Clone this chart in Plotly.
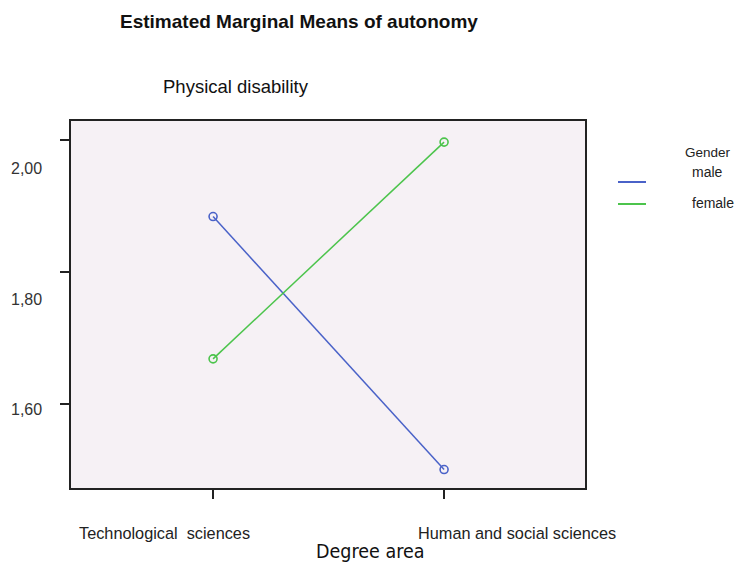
import plotly.graph_objects as go

categories = ["Technological  sciences", "Human and social sciences"]
series_names = ["male", "female"]
male = [1.884, 1.50]
female = [1.668, 1.997]
y_ticks = [1.60, 1.80, 2.00]
y_tick_labels = ["1,60", "1,80", "2,00"]
legend_title = "Gender"

FONT = "Liberation Sans, Arial, sans-serif"
COLORS = ["#4a62c8", "#4cc44c"]
xpos = list(range(len(categories)))

# plot box in pixels: x 71..585, y 121..488
PL, PR, PT, PB = 71, 585, 121, 488
PW, PH = PR - PL, PB - PT


def px_x(p):
    return (p - PL) / PW


def px_y(p):
    return (PB - p) / PH


fig = go.Figure()
for name, vals, col in zip(series_names, [male, female], COLORS):
    fig.add_trace(go.Scatter(x=xpos, y=vals, mode="lines+markers", name=name,
                             showlegend=False,
                             line=dict(color=col, width=1.5),
                             marker=dict(symbol="circle-open", size=8, color=col,
                                         line=dict(width=1.6))))

fig.update_layout(
    width=735, height=563,
    margin=dict(l=PL, r=735 - PR, t=PT, b=563 - PB),
    paper_bgcolor="white",
    plot_bgcolor="#f6f1f5",
    font=dict(family=FONT, color="#222"),
    showlegend=False,
    xaxis=dict(range=[-0.615, 1.61], tickvals=xpos, ticktext=["", ""],
               ticks="outside", ticklen=9, tickwidth=1.5, tickcolor="#222",
               showgrid=False, zeroline=False,
               showline=True, linecolor="#222", linewidth=1.5, mirror=True),
    yaxis=dict(range=[1.472, 2.029], tickvals=y_ticks, ticktext=["", "", ""],
               ticks="outside", ticklen=9, tickwidth=1.5, tickcolor="#222",
               showgrid=False, zeroline=False,
               showline=True, linecolor="#222", linewidth=1.5, mirror=True),
)

# y tick labels (drawn slightly below their ticks as in the reference)
y_label_shift = [-6, -28, -28]
for v, lab, sh in zip(y_ticks, y_tick_labels, y_label_shift):
    fig.add_annotation(text=lab, xref="paper", yref="y", x=px_x(44), y=v, yshift=sh,
                       xanchor="right", yanchor="middle", showarrow=False,
                       font=dict(size=16, color="#333"))

# title and subtitle
fig.add_annotation(text="<b>Estimated Marginal Means of autonomy</b>", xref="paper", yref="paper",
                   x=px_x(118), y=px_y(22), xanchor="left", yanchor="middle",
                   showarrow=False, font=dict(size=19, color="#111"))
fig.add_annotation(text="Physical disability", xref="paper", yref="paper",
                   x=px_x(161), y=px_y(87), xanchor="left", yanchor="middle",
                   showarrow=False, font=dict(size=18.5, color="#111"))

# category labels (offset from ticks as in the reference)
cat_shift = [-49, 73]
for xi, cat, sh in zip(xpos, categories, cat_shift):
    fig.add_annotation(text=cat.replace("  ", "\u00a0 "), xref="x", yref="paper", x=xi, xshift=sh,
                       y=px_y(533), xanchor="center", yanchor="middle", showarrow=False,
                       font=dict(size=16.3, color="#222"))
fig.add_annotation(text="Degree area", xref="paper", yref="paper", x=px_x(370),
                   y=px_y(551), xanchor="center", yanchor="middle", showarrow=False,
                   font=dict(size=19.5, color="#111",
                             family="DejaVu Sans Condensed, Liberation Sans, sans-serif"))

# legend (hand placed to match the reference)
fig.add_annotation(text=legend_title, xref="paper", yref="paper", x=px_x(708), y=px_y(152),
                   xanchor="center", yanchor="middle", showarrow=False,
                   font=dict(size=13.5, color="#222"))
leg_line_y = [182, 204]
leg_text = [(690, 172), (690, 203)]
for name, col, ly, (tx, ty) in zip(series_names, COLORS, leg_line_y, leg_text):
    fig.add_shape(type="line", xref="paper", yref="paper", x0=px_x(618), x1=px_x(646),
                  y0=px_y(ly), y1=px_y(ly), line=dict(color=col, width=2))
    fig.add_annotation(text=name, xref="paper", yref="paper", x=px_x(tx), y=px_y(ty),
                       xanchor="left", yanchor="middle", showarrow=False,
                       font=dict(size=14, color="#222"))

fig.write_html("out.html", config={"displayModeBar": False})

# remove the default page margin so the figure sits at the window origin
with open("out.html", encoding="utf-8") as f:
    html = f.read()
html = html.replace("<body>", '<body style="margin:0;padding:0;overflow:hidden">', 1)
with open("out.html", "w", encoding="utf-8") as f:
    f.write(html)
